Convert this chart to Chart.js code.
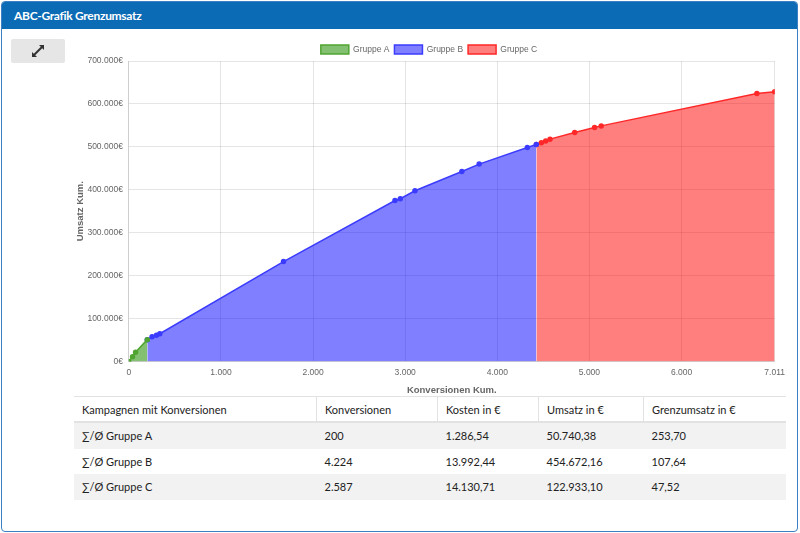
<!DOCTYPE html>
<html>
<head>
<meta charset="utf-8">
<script src="https://cdn.jsdelivr.net/npm/chart.js@4/dist/chart.umd.min.js"></script>
<style>
  html, body { margin: 0; padding: 0; background: #fff; }
  body { width: 800px; height: 533px; position: relative; overflow: hidden; font-family: "Lato", sans-serif; }
  .panel { position: absolute; left: 1px; top: 1px; width: 795px; height: 529px; border: 1px solid #3b80c3; border-radius: 4px; overflow: hidden; }
  .panel-head { height: 27px; background: #0b6bb5; color: #fff; font-weight: bold; font-size: 12px; line-height: 27px; padding-left: 12px; letter-spacing: -0.3px; }
  .btn { position: absolute; left: 9px; top: 37px; width: 54px; height: 24px; background: #e6e6e6; border-radius: 2px; }
  .btn svg { position: absolute; left: 19px; top: 4px; }
  .chart-wrap { position: absolute; left: 71px; top: 40px; width: 720px; height: 356px; }
  table { position: absolute; left: 74px; top: 396px; width: 712px; border-collapse: collapse; font-family: "Lato", sans-serif; font-size: 11px; color: #222; }
  th { font-weight: normal; text-align: left; height: 24px; padding: 0 0 0 8px; border-top: 1px solid #e2e2e2; border-bottom: 2px solid #e2e2e2; border-left: 1px solid #e2e2e2; }
  th:first-child { border-left: none; }
  td { height: 25.5px; padding: 0 0 0 8px; }
  tr.odd td { background: #f2f2f2; }
</style>
</head>
<body>
<div class="panel">
  <div class="panel-head">ABC-Grafik Grenzumsatz</div>
  <div class="btn">
    <svg width="16" height="16" viewBox="0 0 16 16">
      <path d="M9 2 L14 2 L14 7 Z" fill="#333"/>
      <path d="M2 9 L2 14 L7 14 Z" fill="#333"/>
      <line x1="12" y1="4" x2="4" y2="12" stroke="#333" stroke-width="2"/>
    </svg>
  </div>
</div>
<div class="chart-wrap"><canvas id="chart"></canvas></div>
<table>
  <tr><th style="width:234px">Kampagnen mit Konversionen</th><th style="width:112px">Konversionen</th><th style="width:92px">Kosten in €</th><th style="width:96px">Umsatz in €</th><th>Grenzumsatz in €</th></tr>
  <tr class="odd"><td>∑/Ø Gruppe A</td><td>200</td><td>1.286,54</td><td>50.740,38</td><td>253,70</td></tr>
  <tr><td>∑/Ø Gruppe B</td><td>4.224</td><td>13.992,44</td><td>454.672,16</td><td>107,64</td></tr>
  <tr class="odd"><td>∑/Ø Gruppe C</td><td>2.587</td><td>14.130,71</td><td>122.933,10</td><td>47,52</td></tr>
</table>
<script>
// --- Daten (kumulierte Konversionen / kumulierter Umsatz) ---
const groupLabels = ['Gruppe A', 'Gruppe B', 'Gruppe C'];

const groupAConv = [0, 40, 73, 200];
const groupARev  = [0, 11000, 21600, 50740];

const groupBConv = [200, 252, 300, 336, 1679, 2889, 2947, 3106, 3615, 3803, 4326, 4424];
const groupBRev  = [50740, 57400, 61200, 64400, 232600, 375000, 379000, 397700, 442600, 459800, 498400, 505413];

const groupCConv = [4424, 4478, 4525, 4572, 4840, 5056, 5128, 6818, 7011];
const groupCRev  = [505413, 509300, 513300, 517900, 533300, 544900, 548800, 624000, 628346];

// Achsen-Ticks
const xTicks = [0, 1000, 2000, 3000, 4000, 5000, 6000, 7011];
const yTicks = [0, 100000, 200000, 300000, 400000, 500000, 600000, 700000];

// Zahl im deutschen Format (Tausenderpunkt)
function fmt(n) {
    return String(Math.round(n)).replace(/\B(?=(\d{3})+(?!\d))/g, '.');
}

function toPoints(xs, ys) {
    return xs.map((x, i) => ({ x: x, y: ys[i] }));
}

const colors = [
    { line: 'rgb(80,165,50)',  fill: 'rgba(50,150,20,0.6)' },
    { line: 'rgb(60,60,255)',  fill: 'rgba(0,0,255,0.5)' },
    { line: 'rgb(255,40,40)',  fill: 'rgba(255,0,0,0.5)' }
];

const series = [
    toPoints(groupAConv, groupARev),
    toPoints(groupBConv, groupBRev),
    toPoints(groupCConv, groupCRev)
];

const tickFont = { family: '"Liberation Sans", Arial, sans-serif', size: 8.5 };
const titleFont = { family: '"Liberation Sans", Arial, sans-serif', size: 9.5, weight: 'bold' };

// Legende etwas flacher machen, damit der Plotbereich nicht nach unten rutscht
const legendFit = {
    id: 'legendFit',
    beforeInit(chart) {
        const fit = chart.legend.fit;
        chart.legend.fit = function () {
            fit.bind(chart.legend)();
            this.height -= 3;
        };
    }
};

new Chart(document.getElementById('chart').getContext('2d'), {
    type: 'line',
    data: {
        datasets: series.map((pts, i) => ({
            label: groupLabels[i],
            data: pts,
            fill: 'origin',
            backgroundColor: colors[i].fill,
            borderColor: colors[i].line,
            borderWidth: 1.5,
            pointBackgroundColor: colors[i].line,
            pointBorderColor: colors[i].line,
            pointRadius: 2,
            tension: 0
        }))
    },
    options: {
        responsive: true,
        maintainAspectRatio: false,
        animation: false,
        layout: { padding: { right: 4 } },
        plugins: {
            legend: {
                position: 'top',
                labels: { boxWidth: 28, boxHeight: 9, font: tickFont, color: '#666', padding: 5 }
            },
            tooltip: { enabled: false }
        },
        scales: {
            x: {
                type: 'linear',
                min: xTicks[0],
                max: xTicks[xTicks.length - 1],
                afterBuildTicks: (axis) => { axis.ticks = xTicks.map(v => ({ value: v })); },
                ticks: { font: tickFont, color: '#666', maxRotation: 0, padding: 6, callback: (v) => fmt(v) },
                grid: { color: 'rgba(0,0,0,0.1)', drawTicks: false },
                title: { display: true, text: 'Konversionen Kum.', font: titleFont, color: '#666', padding: { top: 1, bottom: 0 } }
            },
            y: {
                min: yTicks[0],
                max: yTicks[yTicks.length - 1],
                afterBuildTicks: (axis) => { axis.ticks = yTicks.map(v => ({ value: v })); },
                ticks: { font: tickFont, color: '#666', padding: 6, callback: (v) => fmt(v) + '€' },
                grid: { color: 'rgba(0,0,0,0.1)', drawTicks: false },
                title: { display: true, text: 'Umsatz Kum.', font: titleFont, color: '#666', padding: { top: 4, bottom: -5 } }
            }
        }
    },
    plugins: [legendFit]
});
</script>
</body>
</html>
